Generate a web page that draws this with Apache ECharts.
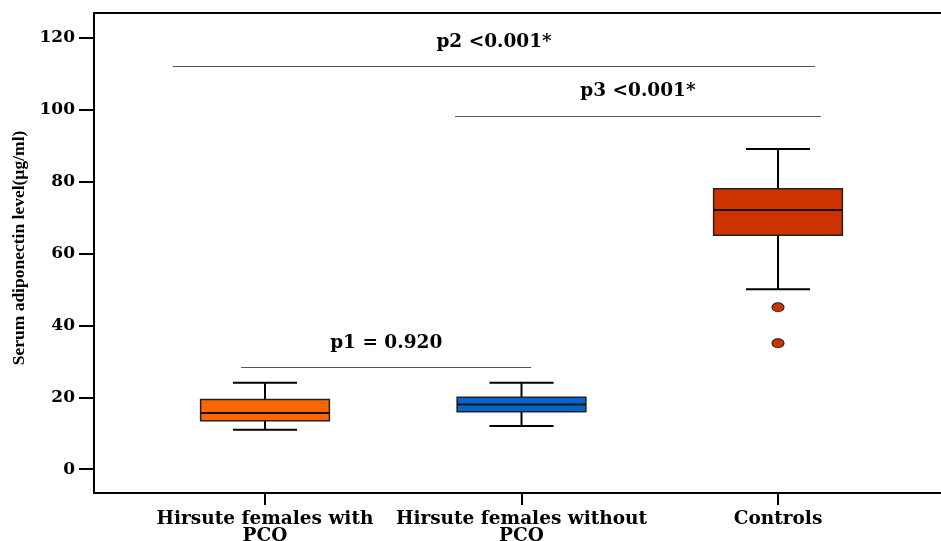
<!DOCTYPE html>
<html>
<head>
<meta charset="utf-8">
<script src="https://cdn.jsdelivr.net/npm/echarts@6/dist/echarts.min.js"></script>
<style>html,body{margin:0;padding:0;background:#fff;}#c{width:941px;height:541px;}</style>
</head>
<body>
<div id="c"></div>
<script>
// ---- data ----
const categories = ['Hirsute females with\nPCO', 'Hirsute females without\nPCO', 'Controls'];
const categoryPos = [1, 2, 3];
// [min, Q1, median, Q3, max]
const boxMin    = [11.0, 12.0, 50.0];
const boxQ1     = [13.5, 16.0, 65.0];
const boxMedian = [15.6, 18.0, 72.0];
const boxQ3     = [19.4, 20.0, 77.9];
const boxMax    = [24.0, 24.0, 89.0];
const boxColors = ['#FF6600', '#0066CC', '#CC3300'];
const outlierCat = [3, 3];
const outlierVal = [45, 35];
const yTicks = [0, 20, 40, 60, 80, 100, 120];
// significance annotations (data coordinates)
const sigLabels = ['p1 = 0.920', 'p2 <0.001*', 'p3 <0.001*'];
const sigXStart = [0.907, 0.641, 1.741];
const sigXEnd   = [2.038, 3.145, 3.167];
const sigLineY  = [28.3, 112.0, 98.1];
const sigTextY  = [34.9, 118.7, 105.1];

const boxData = categoryPos.map((x, i) => [x, boxMin[i], boxQ1[i], boxMedian[i], boxQ3[i], boxMax[i], i]);
const outlierData = outlierCat.map((x, i) => [x, outlierVal[i]]);
const sigTextData = sigLabels.map((t, i) => ({ value: [(sigXStart[i] + sigXEnd[i]) / 2, sigTextY[i]], name: t }));
const sigLineData = sigLabels.map((t, i) => [{ coord: [sigXStart[i], sigLineY[i]] }, { coord: [sigXEnd[i], sigLineY[i]] }]);

const serifTick = 'DejaVu Serif';
const chart = echarts.init(document.getElementById('c'), null, { renderer: 'canvas' });

function renderBox(params, api) {
  const x = api.value(0);
  const vMin = api.value(1), q1 = api.value(2), med = api.value(3), q3 = api.value(4), vMax = api.value(5);
  const idx = api.value(6);
  const halfBox = 0.251, halfCap = 0.125;
  const pL = api.coord([x - halfBox, q3]);
  const pR = api.coord([x + halfBox, q1]);
  const cL = api.coord([x - halfCap, vMax])[0];
  const cR = api.coord([x + halfCap, vMax])[0];
  const cx = api.coord([x, 0])[0];
  const yMin = api.coord([x, vMin])[1], yMax = api.coord([x, vMax])[1];
  const yQ1 = api.coord([x, q1])[1], yQ3 = api.coord([x, q3])[1], yMed = api.coord([x, med])[1];
  const lineStyle = { stroke: '#000', lineWidth: 2 };
  return {
    type: 'group',
    children: [
      { type: 'line', shape: { x1: cx, y1: yMax, x2: cx, y2: yQ3 }, style: lineStyle },
      { type: 'line', shape: { x1: cx, y1: yQ1, x2: cx, y2: yMin }, style: lineStyle },
      { type: 'line', shape: { x1: cL, y1: yMax, x2: cR, y2: yMax }, style: lineStyle },
      { type: 'line', shape: { x1: cL, y1: yMin, x2: cR, y2: yMin }, style: lineStyle },
      { type: 'rect', shape: { x: pL[0], y: yQ3, width: pR[0] - pL[0], height: yQ1 - yQ3 },
        style: { fill: boxColors[idx], stroke: '#222', lineWidth: 1.5 } },
      { type: 'line', shape: { x1: pL[0], y1: yMed, x2: pR[0], y2: yMed }, style: { stroke: '#111', lineWidth: 2 } }
    ]
  };
}

chart.setOption({
  animation: false,
  backgroundColor: '#fff',
  grid: { left: 94, top: 13, width: 855, height: 480, containLabel: false, outerBoundsMode: 'none',
    show: true, borderColor: '#000', borderWidth: 2, backgroundColor: 'transparent' },
  xAxis: {
    type: 'value', min: 1 / 3, max: 11 / 3,
    splitLine: { show: false },
    axisLine: { show: true, onZero: false, lineStyle: { color: '#000', width: 2 } },
    axisTick: { show: true, length: 12, lineStyle: { color: '#000', width: 2 }, customValues: categoryPos },
    axisLabel: {
      customValues: categoryPos, margin: 18,
      formatter: v => categories[Math.round(v) - 1] || '',
      fontFamily: serifTick, fontWeight: 'bold', fontSize: 18.5, color: '#000', lineHeight: 17
    }
  },
  yAxis: {
    type: 'value', min: -6.6, max: 126.75,
    name: 'Serum adiponectin level(µg/ml)', nameLocation: 'middle', nameRotate: 90, nameGap: 59,
    nameTextStyle: { fontFamily: 'Liberation Serif', fontWeight: 'bold', fontSize: 17.5, color: '#000', padding: [0, 0, 0, 10] },
    splitLine: { show: false },
    axisLine: { show: true, lineStyle: { color: '#000', width: 2 } },
    axisTick: { show: true, length: 15, lineStyle: { color: '#000', width: 2 }, customValues: yTicks },
    axisLabel: { customValues: yTicks, margin: 19, fontFamily: serifTick, fontWeight: 'bold', fontSize: 17, color: '#000' }
  },
  series: [
    {
      type: 'custom', renderItem: renderBox, data: boxData,
      encode: { x: 0, y: [1, 2, 3, 4, 5] }, z: 3
    },
    {
      type: 'scatter', data: outlierData, symbol: 'circle', symbolSize: [12, 9],
      itemStyle: { color: '#CC3300', borderColor: '#222', borderWidth: 1, opacity: 1 }, z: 4
    },
    {
      type: 'scatter', data: sigTextData, symbolSize: 1,
      itemStyle: { color: 'rgba(0,0,0,0)', opacity: 1 },
      label: { show: true, position: 'inside', formatter: p => p.name,
        fontFamily: serifTick, fontWeight: 'bold', fontSize: 18.5, color: '#000' },
      markLine: {
        silent: true, symbol: ['none', 'none'], animation: false,
        lineStyle: { color: '#555', width: 1, type: 'solid' },
        label: { show: false },
        data: sigLineData
      }
    }
  ]
});
</script>
</body>
</html>
